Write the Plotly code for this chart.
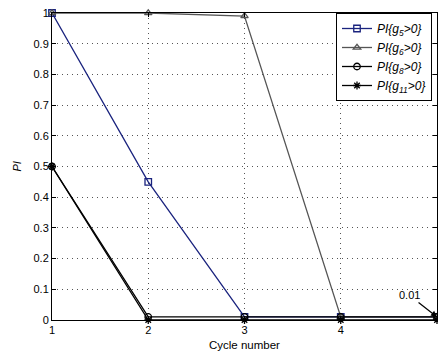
import plotly.graph_objects as go

cycles = [1, 2, 3, 4, 5]
pi_g5 = [1.0, 0.45, 0.01, 0.01, 0.01]
pi_g6 = [1.0, 1.0, 0.99, 0.01, 0.01]
pi_g8 = [0.5, 0.01, 0.01, 0.01, 0.01]
pi_g11 = [0.5, 0.0, 0.0, 0.0, 0.0]
x_ticks = [1, 2, 3, 4]
y_ticks = [0, 0.1, 0.2, 0.3, 0.4, 0.5, 0.6, 0.7, 0.8, 0.9, 1]
y_tick_text = ["0", "0.1", "0.2", "0.3", "0.4", "0.5", "0.6", "0.7", "0.8", "0.9", "1"]

series = [
    ("<i>PI{g<sub>5</sub>&gt;0}</i>", pi_g5, "#1a237e", "square-open"),
    ("<i>PI{g<sub>6</sub>&gt;0}</i>", pi_g6, "#555555", "triangle-up-open"),
    ("<i>PI{g<sub>8</sub>&gt;0}</i>", pi_g8, "#000000", "circle-open"),
    ("<i>PI{g<sub>11</sub>&gt;0}</i>", pi_g11, "#000000", "asterisk-open"),
]

L, R, T, B = 52, 1, 13, 34
W, H = 438, 354
PW, PH = W - L - R, H - T - B

fig = go.Figure()
for name, ys, col, sym in series:
    fig.add_trace(go.Scatter(
        x=cycles, y=ys, name=name, mode="lines+markers",
        line=dict(color=col, width=1.3),
        marker=dict(symbol=sym, size=6.5, color=col, line=dict(color=col, width=1.3)),
        cliponaxis=False,
    ))

fig.add_annotation(
    x=5, y=0.01, xref="x", yref="y", text="0.01",
    showarrow=True, arrowhead=2, arrowsize=1, arrowwidth=1.2, arrowcolor="black",
    ax=-28, ay=-22, font=dict(size=11, color="black"),
)

fig.add_annotation(
    x=0.5, y=-25 / PH, xref="x domain", yref="y domain",
    text="Cycle number", showarrow=False, xanchor="center", yanchor="middle",
    font=dict(size=11.5, color="black"),
)
fig.add_annotation(
    x=-36 / PW, y=0.5, xref="x domain", yref="y domain",
    text="<i>PI</i>", showarrow=False, textangle=-90,
    xanchor="center", yanchor="middle", font=dict(size=11, color="black"),
)

axis_common = dict(
    showline=True, linecolor="black", linewidth=1, mirror="ticks",
    ticks="inside", ticklen=4, tickcolor="black",
    showgrid=True, gridcolor="#555555", griddash="1px,4px", gridwidth=1,
    zeroline=False, tickfont=dict(size=11, color="black"),
)

fig.update_xaxes(range=[1, 5], tickvals=x_ticks, ticktext=[str(v) for v in x_ticks],
                 **axis_common)
fig.update_yaxes(range=[0, 1], tickvals=y_ticks, ticktext=y_tick_text,
                 **axis_common)

fig.update_layout(
    width=W, height=H,
    margin=dict(l=L, r=R, t=T, b=B),
    paper_bgcolor="white", plot_bgcolor="white",
    font=dict(family="Liberation Sans, Arial, sans-serif", size=11, color="black"),
    legend=dict(x=(336 - L) / PW, y=1, xanchor="left", yanchor="top",
                bgcolor="white", bordercolor="black", borderwidth=1,
                font=dict(size=12), tracegroupgap=0),
    showlegend=True,
)

fig.write_html("out.html", config={"displayModeBar": False},
               post_script="document.body.style.margin='0';")
